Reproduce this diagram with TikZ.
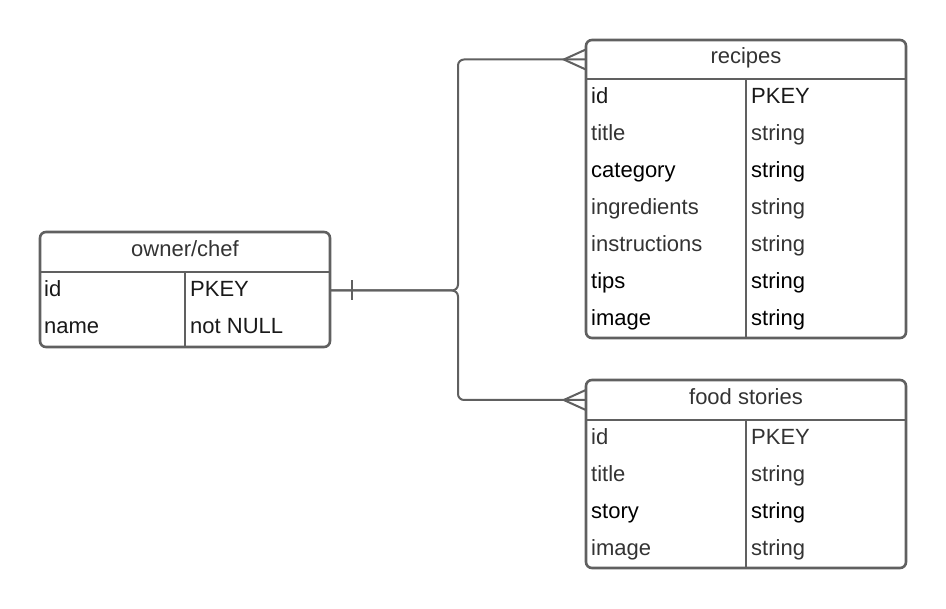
\documentclass[tikz,border=0pt]{standalone}
\usepackage{fontspec}
\setmainfont{Liberation Sans}
\usetikzlibrary{calc}
\definecolor{bordercol}{HTML}{606060}
\definecolor{softtext}{HTML}{333333}
\definecolor{darktext}{HTML}{000000}
\tikzset{
  tablebox/.style={draw=bordercol, line width=2.6pt, rounded corners=6pt, rectangle, inner sep=0pt},
  band/.style={rectangle, inner sep=0pt},
  tableline/.style={draw=bordercol, line width=2.6pt},
  link/.style={draw=bordercol, line width=2pt},
  headtxt/.style={anchor=base, inner sep=0pt, text=softtext, font=\fontsize{22}{25}\selectfont},
  celltxt/.style={anchor=base west, inner sep=0pt, text=softtext, font=\fontsize{22}{25}\selectfont},
  strongtxt/.style={celltxt, text=darktext},
}
\begin{document}
\begin{tikzpicture}[x=1pt, y=-1pt]
\useasboundingbox (0,0) rectangle (946,609);

% ---------- owner/chef ----------
\node[tablebox, minimum width=290pt, minimum height=115pt] (owner) at (185,289.5) {};
\node[band, minimum width=290pt, minimum height=40pt] (ownhead) at (185,252) {};
\node[band, minimum width=290pt, minimum height=37pt] (ownid) at (185,290.5) {};
\draw[tableline] (ownhead.south west) -- (ownhead.south east);
\draw[tableline] (ownhead.south) -- (owner.south);
\node[headtxt] (ownt) at (185,257) {owner/chef};
\node[celltxt, text=black!90] (o1a) at (44,297) {id};
\node[celltxt, text=black!90] (o1b) at (190,297) {PKEY};
\node[celltxt, text=black!90] (o2a) at (44,334) {name};
\node[celltxt, text=black!90] (o2b) at (190,334) {not NULL};

% ---------- recipes ----------
\node[tablebox, minimum width=320pt, minimum height=298pt] (recipes) at (746,189) {};
\node[band, minimum width=320pt, minimum height=39pt] (rechead) at (746,59.5) {};
\draw[tableline] (rechead.south west) -- (rechead.south east);
\draw[tableline] (rechead.south) -- (recipes.south);
\node[headtxt] (rect) at (746,64) {recipes};
\node[celltxt, text=black!90] (r1a) at (591,103.5) {id};
\node[celltxt, text=black!90] (r1b) at (751,103.5) {PKEY};
\node[celltxt] (r2a) at (591,140.5) {title};
\node[celltxt] (r2b) at (751,140.5) {string};
\node[strongtxt] (r3a) at (591,177.5) {category};
\node[strongtxt] (r3b) at (751,177.5) {string};
\node[celltxt] (r4a) at (591,214.5) {ingredients};
\node[celltxt] (r4b) at (751,214.5) {string};
\node[celltxt] (r5a) at (591,251.5) {instructions};
\node[celltxt] (r5b) at (751,251.5) {string};
\node[strongtxt] (r6a) at (591,288.5) {tips};
\node[strongtxt] (r6b) at (751,288.5) {string};
\node[strongtxt] (r7a) at (591,325.5) {image};
\node[strongtxt] (r7b) at (751,325.5) {string};

% ---------- food stories ----------
\node[tablebox, minimum width=320pt, minimum height=188pt] (food) at (746,474) {};
\node[band, minimum width=320pt, minimum height=40pt] (foodhead) at (746,400) {};
\draw[tableline] (foodhead.south west) -- (foodhead.south east);
\draw[tableline] (foodhead.south) -- (food.south);
\node[headtxt] (foodt) at (746,405) {food stories};
\node[celltxt] (f1a) at (591,444.5) {id};
\node[celltxt] (f1b) at (751,444.5) {PKEY};
\node[celltxt] (f2a) at (591,481.5) {title};
\node[celltxt] (f2b) at (751,481.5) {string};
\node[strongtxt] (f3a) at (591,518.5) {story};
\node[strongtxt] (f3b) at (751,518.5) {string};
\node[celltxt] (f4a) at (591,555.5) {image};
\node[celltxt] (f4b) at (751,555.5) {string};

% ---------- connectors ----------
\coordinate (junc) at (458,290.5);
\draw[link, rounded corners=6pt] (ownid.east) -- (junc) |- (rechead.west);
\draw[link, rounded corners=6pt] (ownid.east) -- (junc) |- (foodhead.west);
% one mark
\draw[link] ($(ownid.east)+(22,-10)$) -- ($(ownid.east)+(22,10)$);
% crow's feet
\coordinate (rcf) at ($(rechead.west)+(-22,0)$);
\draw[link] ($(rechead.west)+(0,-10)$) -- (rcf) -- ($(rechead.west)+(0,10)$);
\coordinate (fcf) at ($(foodhead.west)+(-22,0)$);
\draw[link] ($(foodhead.west)+(0,-10)$) -- (fcf) -- ($(foodhead.west)+(0,10)$);
\end{tikzpicture}
\end{document}
